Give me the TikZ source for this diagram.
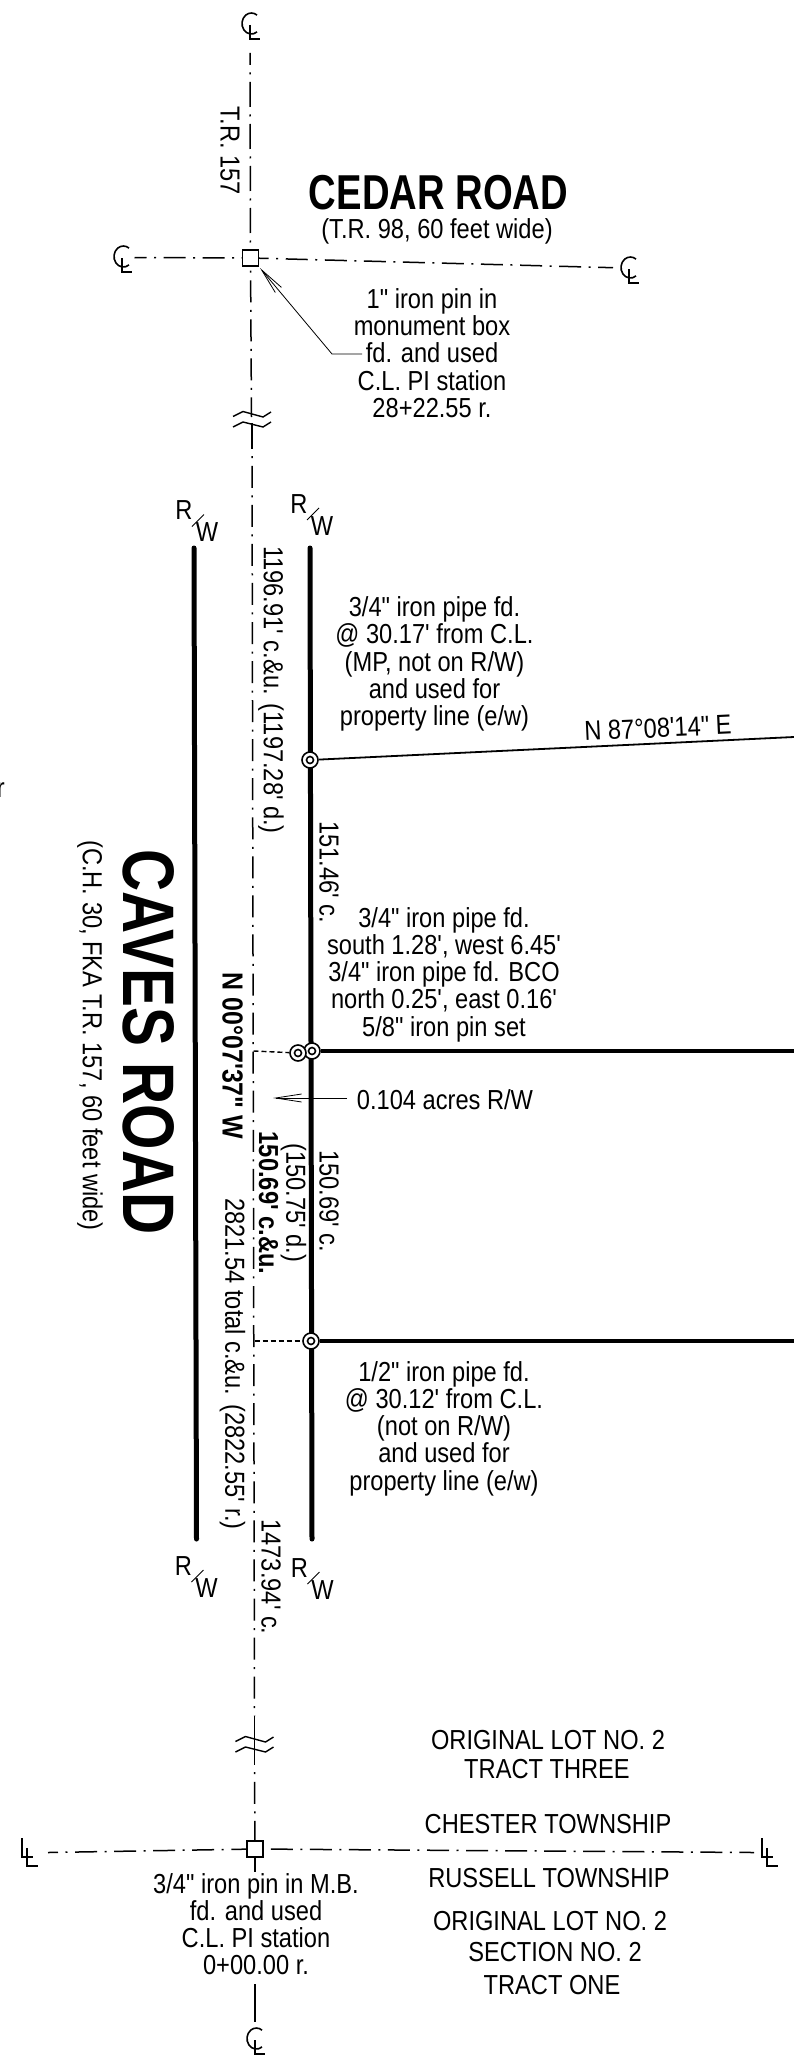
\documentclass[tikz,border=0pt]{standalone}
\usepackage{fontspec}
\usetikzlibrary{arrows.meta,backgrounds}
\newfontfamily\nrm[FakeStretch=0.86]{Liberation Sans}
\newfontfamily\nbd[FakeStretch=0.86]{Liberation Sans Bold}
\newfontfamily\cdr[FakeStretch=0.78]{Liberation Sans Bold}
\newfontfamily\cvs[FakeStretch=0.80]{Liberation Sans Bold}
\tikzset{
  lbl/.style={inner sep=0pt,align=center,text=black,font=\nrm\fontsize{27.5}{27.2}\selectfont},
  bld/.style={inner sep=0pt,align=center,text=black,font=\nbd\fontsize{27.5}{27}\selectfont},
  vert/.style={rotate=-90},
  ctr/.style={line width=1.5pt,dash pattern=on 22pt off 7.5pt on 2pt off 7.56pt},
  ctrtop/.style={line width=1.5pt,dash pattern=on 25pt off 7.5pt on 2pt off 7.5pt},
  solid1/.style={line width=1.5pt},
  boxm/.style={draw,line width=1.4pt,fill=white,inner sep=0pt,minimum size=16pt},
  pipem/.style={circle,draw,fill=white,line width=1.6pt,inner sep=0pt,minimum size=16pt,
    path picture={\draw[line width=1.6pt] (path picture bounding box.center) circle (3.5pt);}},
  rowline/.style={line width=5pt,line cap=round},
  propline/.style={line width=4.5pt},
  leader/.style={line width=.8pt,-{Straight Barb[length=26pt,width=8pt,line width=.8pt]}},
  dashl/.style={line width=1.4pt,dash pattern=on 5pt off 3pt},
  clmark/.pic={\draw[line width=1.6pt] (7.06,4.9) arc[start angle=53,end angle=307,x radius=9.4,y radius=10.5];
    \draw[line width=1.6pt] (0,-2) -- (0,12) -- (10,12);},
  plmark/.pic={\draw[line width=1.6pt] (0,-14) -- (0,5) -- (11,5);
    \draw[line width=1.6pt] (5,-4) -- (5,14) -- (16,14);},
  brk/.pic={\draw[line width=1.4pt] (-19,-3.5) -- (-9,-8.5) -- (11,-3) -- (19,-8);
    \draw[line width=1.4pt] (-19,7) -- (-9,2) -- (11,7) -- (19,2);},
  rwmark/.pic={\node[lbl] (-r) at (-11.5,-11) {R};\node[lbl] (-w) at (11.5,11) {W};
    \draw[line width=.9pt] (-3.5,5) -- (8.5,-7);}
}
\begin{document}
\begin{tikzpicture}[x=1pt,y=-1pt]
\useasboundingbox (0,0) rectangle (794,2055);
% monuments
\node[boxm] (boxa) at (250.5,258) {};
\node[boxm] (boxb) at (255,1849) {};
\node[pipem] (pipea) at (310,760) {};
\node[pipem] (pipeb) at (312,1051) {};
\node[pipem] (pipec) at (298,1053) {};
\node[pipem] (piped) at (311,1341) {};
% free ends
\coordinate (topend) at (250,53);
\coordinate (brkatop) at (251.5,417);
\coordinate (brkabot) at (252,423);
\coordinate (sola) at (252,449);
\coordinate (solb) at (254.5,1716);
\coordinate (solc) at (254.5,1765);
\coordinate (cllefta) at (134.5,257.5);
\coordinate (clrighta) at (613,267.7);
\coordinate (plleft) at (48,1852.5);
\coordinate (plright) at (754,1852.5);
\coordinate (boty) at (255,1872);
\coordinate (botlow) at (255,1984);
\coordinate (botend) at (255,2022);
\coordinate (pleast) at (794,737);
\coordinate (pbeast) at (794,1051);
\coordinate (pdeast) at (794,1341);
\coordinate (rwla) at (194,548);
\coordinate (rwlb) at (196.5,1539);
\coordinate (rwra) at (310,548);
\coordinate (rwrb) at (312,1539);
\coordinate (dasha) at (253.5,1051);
\coordinate (dashb) at (254.5,1341);
\coordinate (ldrbend) at (332,354);
\coordinate (ldrend) at (362,354);
\coordinate (ldrtip) at (260,268);
\coordinate (acrefrom) at (347,1098);
\coordinate (acretip) at (273,1098);
% symbols
\pic at (250,27) {clmark};
\pic at (122,260) {clmark};
\pic at (629,271) {clmark};
\pic at (255,2042) {clmark};
\pic at (22,1852) {plmark};
\pic at (762,1852) {plmark};
\pic at (252,420) {brk};
\pic at (254.5,1745) {brk};
\pic (rwa) at (195.5,521.5) {rwmark};
\pic (rwb) at (310.5,515) {rwmark};
\pic (rwc) at (195,1577) {rwmark};
\pic (rwd) at (311,1579) {rwmark};
% connectors
\begin{scope}[on background layer]
\draw[ctrtop,dash phase=13pt] (topend) -- (boxa);
\draw[ctr,dash phase=25.5pt] (boxa) -- (brkatop);
\draw[solid1] (brkabot) -- (sola);
\draw[ctr,dash phase=22.3pt] (sola) -- (solb);
\draw[solid1] (solb) -- (solc);
\draw[ctr,dash phase=22.3pt] (solc) -- (boxb);
\draw[solid1] (boxb) -- (boty);
\draw[solid1] (botlow) -- (botend);
\draw[ctr,dash phase=10pt] (cllefta) -- (boxa);
\draw[ctr,dash phase=12.5pt] (boxa) -- (clrighta);
\draw[ctr,dash phase=12pt] (plleft) -- (boxb);
\draw[ctr,dash phase=32pt] (boxb) -- (plright);
\draw[rowline] (rwla) -- (rwlb);
\draw[rowline] (rwra) -- (rwrb);
\draw[line width=1.8pt] (pipea) -- (pleast);
\draw[propline] (pipeb) -- (pbeast);
\draw[propline] (piped) -- (pdeast);
\draw[dashl] (dasha) -- (pipec);
\draw[dashl] (dashb) -- (piped);
\draw[leader] (ldrend) -- (ldrbend) -- (ldrtip);
\draw[leader] (acrefrom) -- (acretip);
\end{scope}
% titles
\node[inner sep=0pt,font=\cdr\fontsize{49}{49}\selectfont] (cedar) at (438.5,193) {CEDAR ROAD};
\node[lbl] (cedarsub) at (437,231) {(T.R. 98, 60 feet wide)};
\node[inner sep=0pt,vert,font=\cvs\fontsize{73}{73}\selectfont] (caves) at (148.5,1042) {CAVES ROAD};
\node[lbl,vert] (cavessub) at (90,1035.5) {(C.H. 30, FKA T.R. 157, 60 feet wide)};
% dimensions
\node[lbl,vert] (trlab) at (230,151) {T.R. 157};
\node[lbl,vert] (dima) at (271,690) {1196.91' c.\&u. (1197.28' d.)};
\node[lbl,vert] (dimb) at (329,872) {151.46' c.};
\node[bld,vert,font=\nbd\fontsize{29}{29}\selectfont] (bear) at (232.5,1056) {N 00°07'37" W};
\node[bld,vert] (dimc) at (268.5,1203) {150.69' c.\&u.};
\node[lbl,vert] (dimd) at (293.5,1203) {(150.75' d.)};
\node[lbl,vert] (dime) at (329,1201) {150.69' c.};
\node[lbl,vert] (dimf) at (232.5,1364) {2821.54 total c.\&u. (2822.55' r.)};
\node[lbl,vert] (dimg) at (271,1577) {1473.94' c.};
\node[lbl,rotate=2.7] (bearb) at (658,728) {N 87°08'14" E};
% notes
\node[lbl] (notea) at (432,353) {1" iron pin in\\monument box\\fd. and used\\C.L. PI station\\28+22.55 r.};
\node[lbl] (noteb) at (434.5,664) {3/4" iron pipe fd.\\@ 30.17' from C.L.\\(MP, not on R/W)\\and used for\\property line (e/w)};
\node[lbl] (notec) at (444,974.5) {3/4" iron pipe fd.\\south 1.28', west 6.45'\\3/4" iron pipe fd. BCO\\north 0.25', east 0.16'\\5/8" iron pin set};
\node[lbl] (noted) at (445,1100) {0.104 acres R/W};
\node[lbl] (notee) at (444,1428.5) {1/2" iron pipe fd.\\@ 30.12' from C.L.\\(not on R/W)\\and used for\\property line (e/w)};
\node[lbl] (notef) at (256,1924) {3/4" iron pin in M.B.\\fd. and used\\C.L. PI station\\0+00.00 r.};
\node[lbl] (lota) at (548,1740) {ORIGINAL LOT NO. 2};
\node[lbl] (lotb) at (547,1769) {TRACT THREE};
\node[lbl] (lotc) at (548,1824) {CHESTER TOWNSHIP};
\node[lbl] (lotd) at (549,1878) {RUSSELL TOWNSHIP};
\node[lbl] (lote) at (550,1921) {ORIGINAL LOT NO. 2};
\node[lbl] (lotf) at (555,1952) {SECTION NO. 2};
\node[lbl] (lotg) at (552,1985) {TRACT ONE};
\node[lbl,anchor=east] (stray) at (5,790) {r};
\end{tikzpicture}
\end{document}
